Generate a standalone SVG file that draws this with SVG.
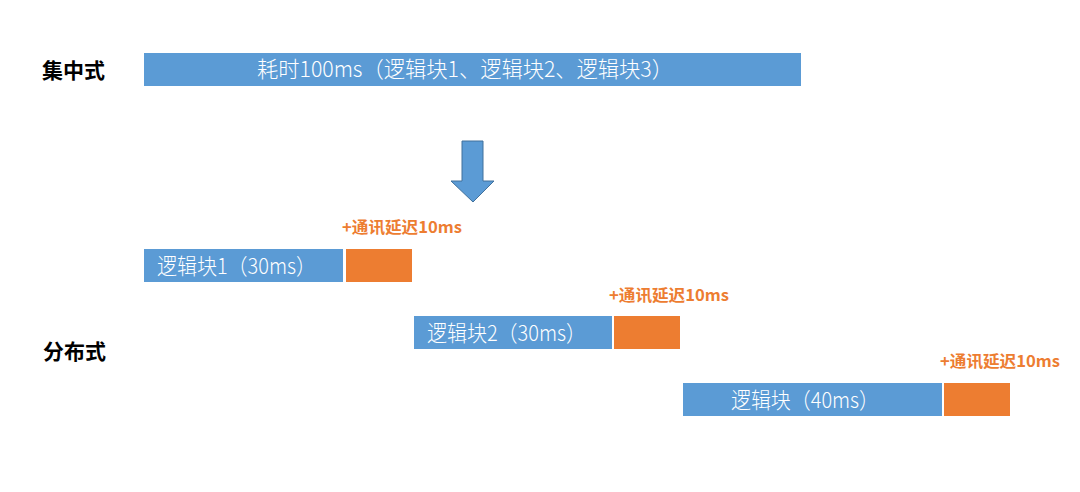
<svg xmlns="http://www.w3.org/2000/svg" width="1080" height="492" viewBox="0 0 1080 492">
<style>
.blue{fill:#5B9BD5}
.orange{fill:#ED7D31}
.bt{font-family:"Noto Sans CJK SC","Noto Sans",sans-serif;font-size:22px;font-weight:300;fill:#FFFFFF}
.lbl{font-family:"Noto Sans CJK SC","Noto Sans",sans-serif;font-size:21px;font-weight:bold;fill:#000000}
.dl{font-family:"Noto Sans CJK SC","Noto Sans",sans-serif;font-size:16px;font-weight:bold;fill:#ED7D31}
</style>
<rect width="1080" height="492" fill="#FFFFFF"/>
<g id="label-centralized"><text class="lbl" x="42" y="78">集中式</text></g>
<g id="label-distributed"><text class="lbl" x="43" y="359">分布式</text></g>
<g id="central-bar">
<rect class="blue" x="144" y="53" width="657" height="33"/>
<text class="bt" x="257" y="77" textLength="416" lengthAdjust="spacingAndGlyphs">耗时100ms（逻辑块1、逻辑块2、逻辑块3）</text>
</g>
<g id="connectors">
<polygon points="462,141 483,141 483,181 494,181 473,202 451,181 462,181" fill="#5B9BD5" stroke="#41719C" stroke-width="1"/>
</g>
<g id="block1">
<rect class="blue" x="144" y="249" width="199" height="33"/>
<text class="bt" x="157" y="274" textLength="159" lengthAdjust="spacingAndGlyphs">逻辑块1（30ms）</text>
</g>
<g id="delay1">
<rect class="orange" x="346" y="249" width="66" height="33"/>
<text class="dl" x="342" y="233" textLength="120" lengthAdjust="spacingAndGlyphs">+通讯延迟10ms</text>
</g>
<g id="block2">
<rect class="blue" x="414" y="316" width="198" height="33"/>
<text class="bt" x="427" y="341" textLength="159" lengthAdjust="spacingAndGlyphs">逻辑块2（30ms）</text>
</g>
<g id="delay2">
<rect class="orange" x="614" y="316" width="66" height="33"/>
<text class="dl" x="609" y="301" textLength="120" lengthAdjust="spacingAndGlyphs">+通讯延迟10ms</text>
</g>
<g id="block3">
<rect class="blue" x="683" y="383" width="259" height="33"/>
<text class="bt" x="731" y="408" textLength="148" lengthAdjust="spacingAndGlyphs">逻辑块（40ms）</text>
</g>
<g id="delay3">
<rect class="orange" x="944" y="383" width="66" height="33"/>
<text class="dl" x="940" y="367" textLength="120" lengthAdjust="spacingAndGlyphs">+通讯延迟10ms</text>
</g>
</svg>
